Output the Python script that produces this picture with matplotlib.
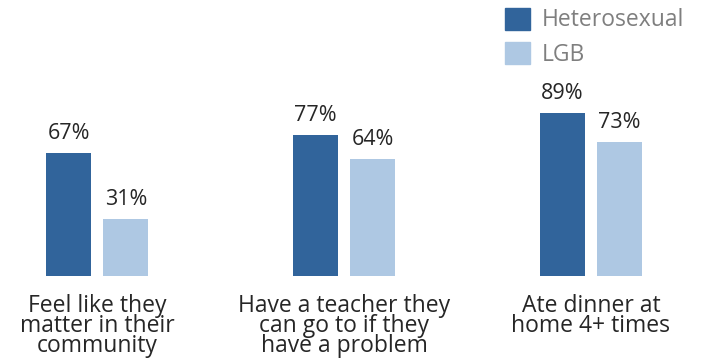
import matplotlib
matplotlib.use("Agg")
import matplotlib.pyplot as plt
from matplotlib.patches import Patch

categories = ["Feel like they\nmatter in their\ncommunity",
              "Have a teacher they\ncan go to if they\nhave a problem",
              "Ate dinner at\nhome 4+ times"]
heterosexual = [67, 77, 89]
lgb = [31, 64, 73]
series_names = ["Heterosexual", "LGB"]

dark = "#31649B"
light = "#AEC8E3"
font = "Open Sans"

W, H = 701, 360
fig = plt.figure(figsize=(W / 100, H / 100), dpi=100)
ax = fig.add_axes([0, 0, 1, 1])

pxu = 246.75  # px per group
xc0 = 97.5
ax.set_xlim(-xc0 / pxu, (W - xc0) / pxu)
ys = 1.835  # px per percent
base = 84
ax.set_ylim(-base / ys, (H - base) / ys)
ax.axis("off")

bw = 45 / pxu
off = 28.5 / pxu
x = list(range(len(categories)))
b1 = ax.bar([i - off for i in x], heterosexual, width=bw, color=dark)
b2 = ax.bar([i + off for i in x], lgb, width=bw, color=light)

for bars, vals in ((b1, heterosexual), (b2, lgb)):
    for r, v in zip(bars, vals):
        ax.annotate(f"{v}%", (r.get_x() + r.get_width() / 2, v),
                    xytext=(0, 6.5), textcoords="offset points",
                    ha="center", va="bottom", fontsize=15.5, family=font,
                    color="#262626")

for i, c in enumerate(categories):
    ax.annotate(c, (i, 0), xytext=(0, -13), textcoords="offset points",
                ha="center", va="top", fontsize=16.5, family=font,
                color="#262626", linespacing=0.78)

handles = [Patch(color=dark), Patch(color=light)]
leg = fig.legend(handles, series_names, loc="upper left",
                 bbox_to_anchor=(484 / W, 1 + 13 / H), frameon=False,
                 prop={"family": font, "size": 16.5}, handlelength=1.1,
                 handleheight=1.1, handletextpad=0.5, labelspacing=0.42)
for t in leg.get_texts():
    t.set_color("#7F7F7F")

fig.savefig("out.png", dpi=100)
